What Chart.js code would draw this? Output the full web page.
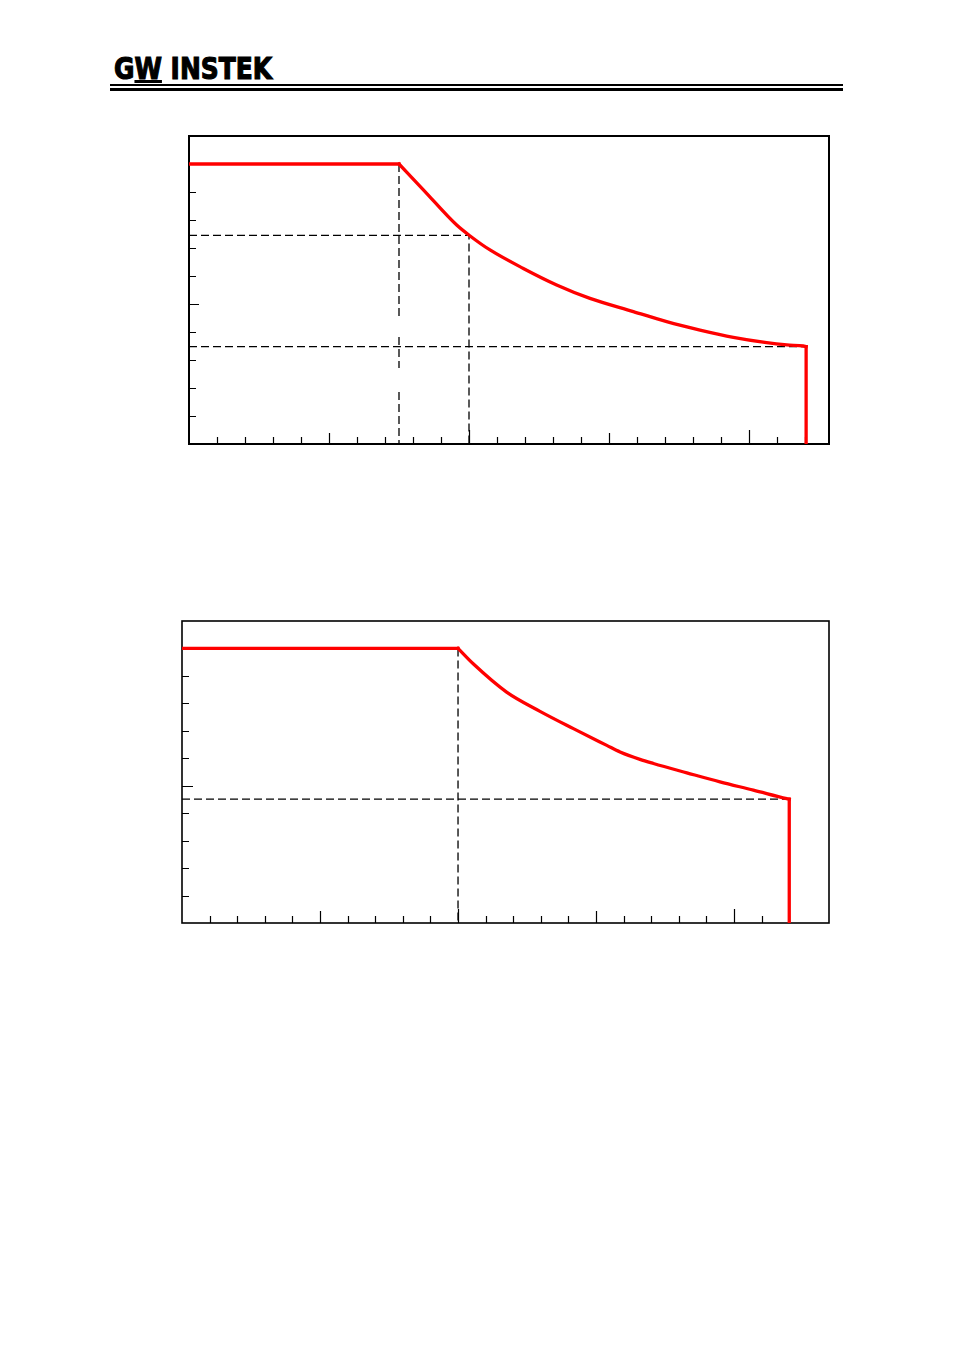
<!DOCTYPE html>
<html><head><meta charset="utf-8">
<script src="https://cdn.jsdelivr.net/npm/chart.js@4"></script>
<style>
html,body{margin:0;padding:0;background:#fff;}
body{width:955px;height:1350px;position:relative;overflow:hidden;}
#logo{position:absolute;left:114px;top:53.5px;font-family:"DejaVu Sans",sans-serif;font-weight:bold;font-size:30px;line-height:30px;color:#000;white-space:nowrap;transform-origin:0 0;-webkit-text-stroke:1.2px #000;}
#logo span.w{text-decoration:underline;text-decoration-thickness:3px;text-underline-offset:1px;}
.rule1{position:absolute;left:110px;width:733px;top:84px;height:1.5px;background:#000;}
.rule2{position:absolute;left:110px;width:733px;top:87.5px;height:3.5px;background:#000;}
canvas{position:absolute;}
#c1{left:179px;top:126px;}
#c2{left:172px;top:611px;}
</style></head>
<body>
<div id="logo">G<span class="w">W</span> INSTEK</div>
<div class="rule1"></div><div class="rule2"></div>
<canvas id="c1" width="660" height="328" style="width:660px;height:328px"></canvas>
<canvas id="c2" width="667" height="322" style="width:667px;height:322px"></canvas>
<script>
// ---------- data (units = tick divisions) ----------
const topXMax = 22.857, topYMax = 11;
const topXTicks = [1,2,3,4,5,6,7,8,9,10,11,12,13,14,15,16,17,18,19,20,21,22];
const topYTicks = [1,2,3,4,5,6,7,8,9,10];
const topFlatX = [0, 7.5];
const topFlatY = [10, 10];
const topCurveX = [7.5, 8.37, 9.56, 10.04, 10.75, 11.94, 13.13, 14.32, 15.87, 17.06, 18.25, 19.44, 20.63, 21.35, 21.94, 22.04];
const topCurveY = [10, 9.08, 7.82, 7.43, 6.93, 6.27, 5.68, 5.20, 4.73, 4.37, 4.07, 3.81, 3.62, 3.54, 3.50, 3.48];
const topDropX = [22.04, 22.04];
const topDropY = [3.48, 0];
const topKneeX = 7.5;
const topKneeDashY = [10, 4.57, null, 3.82, 2.71, null, 1.86, 0];
const topMidX = 10, topMidY = 7.45;
const topEndX = 22.04, topEndY = 3.48;

const botXMax = 23.44, botYMax = 11;
const botXTicks = [1,2,3,4,5,6,7,8,9,10,11,12,13,14,15,16,17,18,19,20,21,22];
const botYTicks = [1,2,3,4,5,6,7,8,9,10];
const botFlatX = [0, 10];
const botFlatY = [10, 10];
const botCurveX = [10, 10.55, 11.76, 12.97, 14.18, 15.39, 15.87, 16.59, 17.08, 18.29, 19.49, 20.70, 21.91, 22.0];
const botCurveY = [10, 9.44, 8.41, 7.71, 7.08, 6.47, 6.23, 5.96, 5.81, 5.47, 5.14, 4.84, 4.53, 4.51];
const botDropX = [22.0, 22.0];
const botDropY = [4.51, 0];
const botKneeX = 10;
const botEndX = 22.0, botEndY = 4.51;

// ---------- helpers ----------
function pts(xs, ys){ return xs.map((x,i)=>({x:x, y:ys[i]})); }
function redSet(data, smooth){
  const d = {data:data, showLine:true, borderColor:'#ff0000', borderWidth:3.3, pointRadius:0, tension:0, order:0, borderJoinStyle:'miter', borderCapStyle:'square'};
  if (smooth) d.cubicInterpolationMode = 'monotone';
  return d;
}
function dashSet(data){ return {data:data, showLine:true, borderColor:'#000', borderWidth:1.3, borderDash:[8,4], pointRadius:0, tension:0, order:1, spanGaps:false}; }

function frameTicksPlugin(xTicks, yTicks, bw, xLen, yLen){
  return {
    id:'frameTicks',
    beforeDatasetsDraw(chart){
      const ctx = chart.ctx, a = chart.chartArea, xs = chart.scales.x, ys = chart.scales.y;
      ctx.save();
      ctx.strokeStyle = '#000';
      ctx.lineWidth = 1.2;
      ctx.beginPath();
      xTicks.forEach(t=>{
        const px = Math.round(xs.getPixelForValue(t)) + 0.5;
        const L = xLen(t);
        ctx.moveTo(px, a.bottom); ctx.lineTo(px, a.bottom - L);
      });
      yTicks.forEach(t=>{
        const py = Math.round(ys.getPixelForValue(t)) + 0.5;
        const L = yLen(t);
        ctx.moveTo(a.left, py); ctx.lineTo(a.left + L, py);
      });
      ctx.stroke();
      ctx.lineWidth = bw;
      ctx.strokeRect(a.left, a.top, a.right - a.left, a.bottom - a.top);
      ctx.restore();
    }
  };
}

function makeChart(id, datasets, xMax, yMax, plugin){
  return new Chart(document.getElementById(id), {
    type:'scatter',
    data:{datasets:datasets},
    options:{
      responsive:false, animation:false, devicePixelRatio:1,
      layout:{padding:10},
      plugins:{legend:{display:false}, tooltip:{enabled:false}},
      scales:{
        x:{type:'linear', min:0, max:xMax, display:false},
        y:{type:'linear', min:0, max:yMax, display:false}
      }
    },
    plugins:[plugin]
  });
}

// ---------- top chart ----------
makeChart('c1', [
  redSet(pts(topFlatX, topFlatY)),
  redSet(pts(topCurveX, topCurveY), true),
  redSet(pts(topDropX, topDropY)),
  dashSet(topKneeDashY.map(y=>({x:topKneeX, y:y}))),
  dashSet([{x:0,y:topMidY},{x:topMidX,y:topMidY},{x:topMidX,y:0}]),
  dashSet([{x:0,y:topEndY},{x:topEndX,y:topEndY}])
], topXMax, topYMax, frameTicksPlugin(topXTicks, topYTicks, 2,
  t => (t%10===0 ? 14 : (t%5===0 ? 11 : 7)),
  t => (t%5===0 ? 10 : 7)));

// ---------- bottom chart ----------
makeChart('c2', [
  redSet(pts(botFlatX, botFlatY)),
  redSet(pts(botCurveX, botCurveY), true),
  redSet(pts(botDropX, botDropY)),
  dashSet([{x:botKneeX,y:10},{x:botKneeX,y:0}]),
  dashSet([{x:0,y:botEndY},{x:botEndX,y:botEndY}])
], botXMax, botYMax, frameTicksPlugin(botXTicks, botYTicks, 1.6,
  t => (t%10===0 ? 14 : (t%5===0 ? 12 : 7)),
  t => (t%5===0 ? 11 : 7)));

// ---------- fit logo ----------
(function(){
  const el = document.getElementById('logo');
  const w = el.getBoundingClientRect().width;
  el.style.transform = 'scaleX(' + (158 / w) + ')';
})();
</script>
</body></html>
